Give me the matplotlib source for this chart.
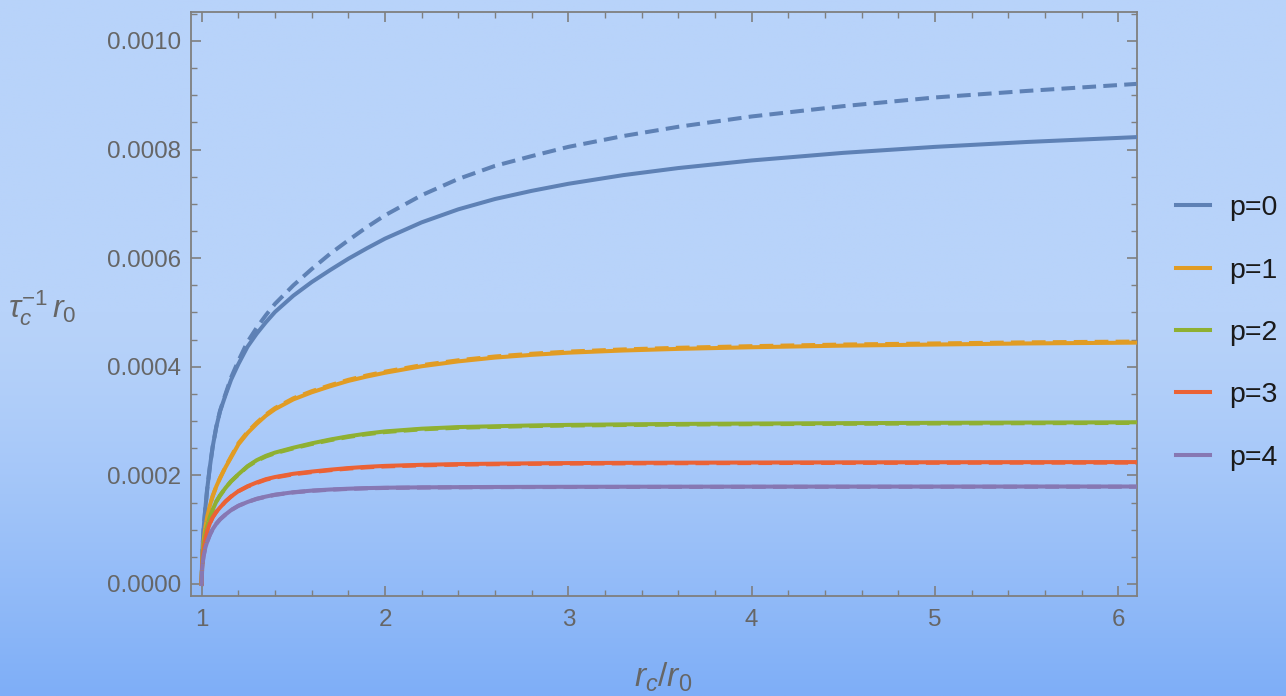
import numpy as np
import matplotlib
matplotlib.use("Agg")
import matplotlib.pyplot as plt
from matplotlib.ticker import MultipleLocator, FormatStrFormatter
from matplotlib.lines import Line2D

# ---------------- data (y in units of 1e-3) ----------------
labels = ["p=0", "p=1", "p=2", "p=3", "p=4"]
colors = ["#5E81B5", "#E19C24", "#8FB032", "#EB6235", "#8778B3"]

x_vals = [1.0, 1.002, 1.005, 1.01, 1.02, 1.03, 1.045, 1.06, 1.08, 1.1,
          1.13, 1.16, 1.2, 1.25, 1.3, 1.35, 1.4, 1.5, 1.6, 1.7,
          1.8, 1.9, 2.0, 2.2, 2.4, 2.6, 2.8, 3.0, 3.3, 3.6,
          4.0, 4.5, 5.0, 5.5, 6.1]

p0_solid = [0, .045, .071, .100, .140, .175, .217, .253, .290, .318,
            .348, .376, .405, .437, .461, .482, .501, .531, .556, .578,
            .599, .618, .636, .666, .690, .709, .724, .737, .753, .766,
            .780, .794, .805, .814, .823]
p0_dashed = [0, .045, .071, .100, .140, .175, .217, .253, .290, .319,
             .350, .380, .411, .446, .472, .495, .516, .550, .580, .608,
             .633, .657, .679, .716, .746, .770, .788, .805, .825, .842,
             .861, .880, .896, .908, .921]

p1_solid = [0, .035, .056, .078, .105, .124, .145, .162, .180, .195,
            .215, .233, .257, .278, .295, .310, .322, .340, .353, .364,
            .374, .382, .389, .401, .410, .417, .422, .426, .430, .433,
            .436, .439, .441, .443, .4445]
p1_dashed = [0, .035, .056, .078, .105, .124, .145, .162, .180, .195,
             .216, .2345, .259, .280, .297, .312, .324, .342, .355, .366,
             .376, .384, .391, .403, .412, .419, .424, .428, .432, .435,
             .438, .441, .443, .445, .4465]

p2_solid = [0, .032, .050, .069, .092, .107, .124, .137, .152, .163,
            .177, .189, .202, .217, .228, .236, .242, .251, .259, .266,
            .272, .277, .281, .286, .289, .2905, .292, .293, .294, .2948,
            .2955, .2962, .2968, .2973, .2978]
p2_dashed = [0, .032, .050, .069, .092, .107, .124, .137, .152, .163,
             .177, .189, .2016, .2162, .2268, .2348, .2408, .2498, .2578, .2648,
             .2708, .2758, .2798, .2848, .2878, .2893, .2908, .2918, .2928, .2936,
             .2943, .2950, .2956, .2961, .2966]

p3_solid = [0, .030, .045, .061, .082, .098, .112, .123, .133, .141,
            .152, .161, .171, .180, .187, .193, .197, .203, .207, .2105,
            .2135, .2158, .2175, .2195, .2208, .2216, .2222, .2227, .2231, .2234,
            .2237, .2240, .2242, .2244, .2245]
p3_dashed = [0, .030, .045, .061, .082, .098, .112, .123, .133, .141,
             .152, .161, .1707, .1794, .186, .192, .196, .202, .206, .2095,
             .2125, .2148, .2165, .2185, .2198, .2206, .2212, .2217, .2221, .2224,
             .2227, .2230, .2232, .2234, .2235]

p4_solid = [0, .026, .038, .051, .067, .078, .091, .101, .111, .119,
            .128, .136, .144, .151, .157, .161, .1645, .169, .172, .174,
            .1755, .1766, .1773, .1780, .1784, .1787, .1789, .1790, .1791, .1792,
            .1793, .1794, .1794, .1795, .1795]
p4_dashed = [0, .026, .038, .051, .067, .078, .091, .101, .111, .119,
             .128, .136, .144, .151, .1566, .1606, .1641, .1686, .1716, .1736,
             .1751, .1762, .1769, .1776, .1780, .1783, .1785, .1786, .1787, .1788,
             .1789, .1790, .1790, .1791, .1791]

solid_series = [p0_solid, p1_solid, p2_solid, p3_solid, p4_solid]
dashed_series = [p0_dashed, p1_dashed, p2_dashed, p3_dashed, p4_dashed]

x_ticks = [1, 2, 3, 4, 5, 6]
y_ticks = [0.0, 0.0002, 0.0004, 0.0006, 0.0008, 0.0010]

# ---------------- figure ----------------
plt.rcParams["font.family"] = ["Liberation Sans", "DejaVu Sans"]
plt.rcParams["mathtext.fontset"] = "custom"
plt.rcParams["mathtext.it"] = "Liberation Sans:italic"
plt.rcParams["mathtext.rm"] = "Liberation Sans"

W, H = 1286, 696
fig = plt.figure(figsize=(W / 100, H / 100), dpi=100)

# gradient background
bg = fig.add_axes([0, 0, 1, 1], zorder=-10)
rows = np.linspace(0, 1, 400)  # 0 = top, 1 = bottom
top = np.array([184, 211, 250]) / 255.0
bot = np.array([126, 174, 247]) / 255.0
t = np.clip((rows - 0.45) / 0.55, 0, 1) ** 1.3
grad = top[None, :] * (1 - t[:, None]) + bot[None, :] * t[:, None]
img = np.repeat(grad[:, None, :], 4, axis=1)
bg.imshow(img, aspect="auto", extent=[0, 1, 0, 1], interpolation="bilinear")
bg.set_xlim(0, 1)
bg.set_ylim(0, 1)
bg.axis("off")

ax = fig.add_axes([191 / W, 1 - 596 / H, (1137 - 191) / W, (596 - 12) / H])
ax.set_facecolor("none")

lw = 2.9
xs = np.array(x_vals)
for ys, c in zip(solid_series, colors):
    ax.plot(xs, np.array(ys) * 1e-3, color=c, lw=lw, solid_joinstyle="round", zorder=3)
for ys, c in zip(dashed_series, colors):
    ax.plot(xs, np.array(ys) * 1e-3, color=c, lw=lw, dashes=(3.4, 1.8), zorder=4)

ax.set_xlim(0.9416, 6.1026)
ax.set_ylim(-0.0000221, 0.0010534)

frame_c = "#7f7f7f"
for s in ax.spines.values():
    s.set_color(frame_c)
    s.set_linewidth(1.3)

ax.xaxis.set_minor_locator(MultipleLocator(0.2))
ax.yaxis.set_minor_locator(MultipleLocator(0.00005))
ax.set_xticks(x_ticks)
ax.set_yticks(y_ticks)
ax.yaxis.set_major_formatter(FormatStrFormatter("%.4f"))

tick_c = "#666666"
ax.tick_params(which="both", direction="in", top=True, right=True, color=frame_c,
               labelcolor=tick_c, labelsize=17.4)
ax.tick_params(which="major", length=7, width=1.2)
ax.tick_params(which="minor", length=4, width=1.0)
ax.tick_params(axis="y", pad=7)
ax.tick_params(axis="x", pad=9)

fig.text(42 / W, 1 - 308 / H, r"$\tau_c^{-1}\,r_0$", fontsize=23, color=tick_c,
         ha="center", va="center")
fig.text(663 / W, 1 - 677 / H, r"$r_c/r_0$", fontsize=24, color=tick_c,
         ha="center", va="center")

handles = [Line2D([0], [0], color=c, lw=lw) for c in colors]
fig.legend(handles, labels, loc="center left", bbox_to_anchor=(1176 / W, 1 - 333 / H),
           bbox_transform=fig.transFigure, frameon=False, fontsize=20.5,
           handlelength=1.19, handletextpad=0.67, labelspacing=1.28,
           borderpad=0, borderaxespad=0, labelcolor="#1a1a1a")

fig.savefig("out.png", dpi=100)
